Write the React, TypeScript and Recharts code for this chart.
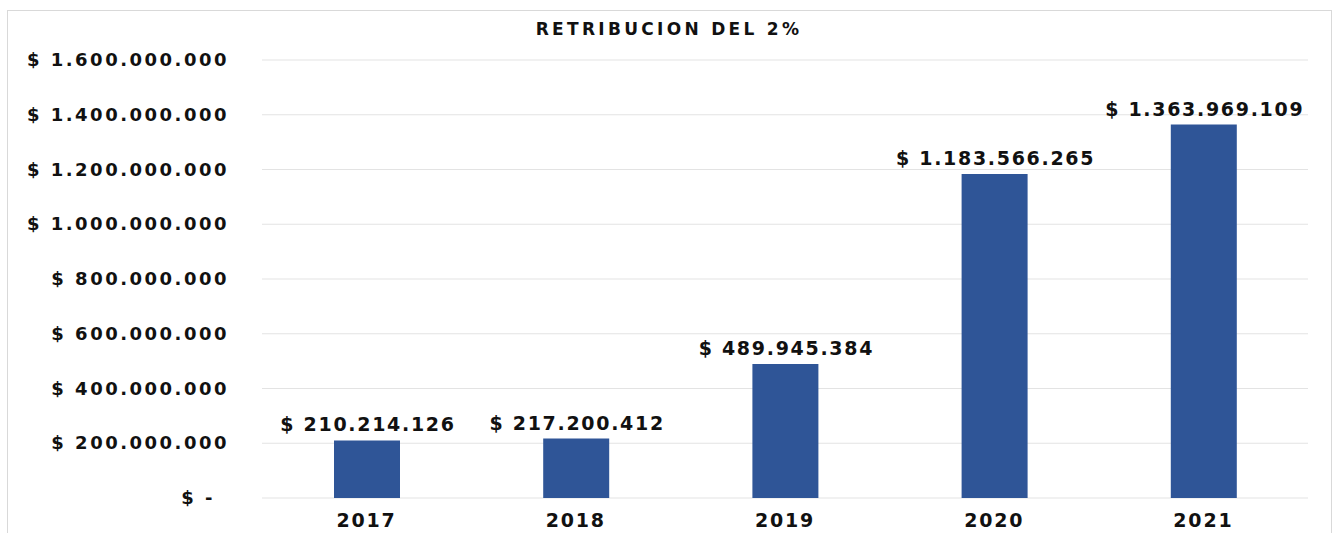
import React from 'react';
import { BarChart, Bar, XAxis, YAxis, CartesianGrid, LabelList } from 'recharts';

const years = ['2017', '2018', '2019', '2020', '2021'];
const amounts = [210214126, 217200412, 489945384, 1183566265, 1363969109];
const yTicks = [0, 200000000, 400000000, 600000000, 800000000, 1000000000, 1200000000, 1400000000, 1600000000];

const chartData = years.map((year, i) => ({ year, value: amounts[i] }));

const fmt = (n: number) =>
  n === 0 ? '$ -' : '$ ' + Math.round(n).toString().replace(/\B(?=(\d{3})+(?!\d))/g, '.');

const font = '"DejaVu Sans", Verdana, sans-serif';

const YTick = (props: any) => {
  const { x, y, payload } = props;
  const zero = payload.value === 0;
  return (
    <text
      x={x - (zero ? 14 : 0)}
      y={y}
      dy={6}
      textAnchor="end"
      fill="#111"
      fontFamily={font}
      fontWeight="bold"
      fontSize={18}
      letterSpacing={2.5}
    >
      {fmt(payload.value)}
    </text>
  );
};

const BarValue = (props: any) => {
  const { x, y, width, value } = props;
  return (
    <text
      x={x + width / 2 + 1}
      y={y - 9}
      textAnchor="middle"
      fill="#111"
      fontFamily={font}
      fontWeight="bold"
      fontSize={19}
      letterSpacing={1.7}
    >
      {fmt(Number(value))}
    </text>
  );
};

export default function App() {
  return (
    <div style={{ position: 'absolute', left: 0, top: 0, width: 1338, height: 533, background: '#fff', overflow: 'hidden' }}>
      <div
        style={{
          position: 'absolute',
          left: 7,
          top: 10,
          width: 1325,
          height: 540,
          border: '1px solid #d9d9d9',
          boxSizing: 'border-box',
        }}
      />
      <div
        style={{
          position: 'absolute',
          left: 0,
          top: 19,
          width: 1338,
          textAlign: 'center',
          fontFamily: font,
          fontWeight: 'bold',
          fontSize: 17,
          letterSpacing: 3.3,
          color: '#111',
        }}
      >
        RETRIBUCION DEL 2%
      </div>
      <BarChart
        width={1338}
        height={533}
        data={chartData}
        margin={{ top: 60, right: 30, left: 0, bottom: 5 }}
        style={{ position: 'absolute', left: 0, top: 0 }}
      >
        <CartesianGrid vertical={false} stroke="#e3e3e3" />
        <XAxis
          dataKey="year"
          axisLine={false}
          tickLine={false}
          height={30}
          tick={{ fill: '#111', fontFamily: font, fontWeight: 'bold', fontSize: 19, letterSpacing: 1.8 }}
          tickMargin={10}
        />
        <YAxis
          width={262}
          domain={[0, 1600000000]}
          ticks={yTicks}
          axisLine={false}
          tickLine={false}
          tickSize={0}
          tickMargin={33}
          tick={<YTick />}
        />
        <Bar dataKey="value" fill="#2F5597" barSize={66} isAnimationActive={false}>
          <LabelList dataKey="value" content={<BarValue />} />
        </Bar>
      </BarChart>
    </div>
  );
}
